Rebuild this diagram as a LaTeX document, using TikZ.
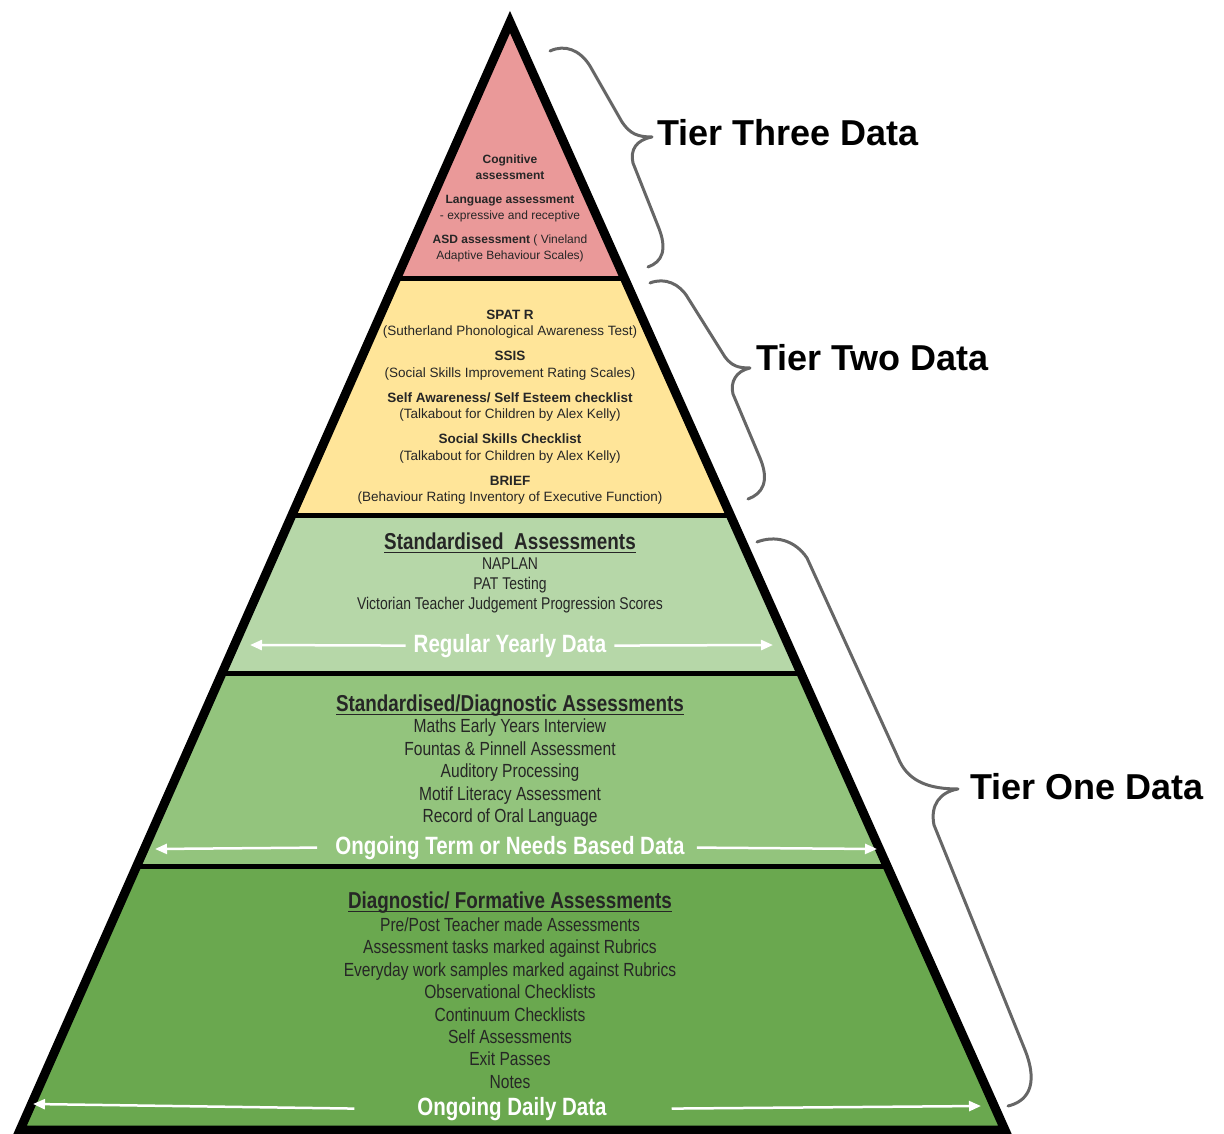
\documentclass[tikz,border=0pt]{standalone}
\usepackage{fontspec}
\setmainfont{Liberation Sans}
\newfontfamily\narrowfont[FakeStretch=0.82]{Liberation Sans}
\usetikzlibrary{arrows.meta}

\newcommand{\ulhead}[1]{\setbox0\hbox{#1}\rlap{\vrule height -2.6pt depth 4.1pt width \wd0}\box0}

\definecolor{tierthree}{HTML}{EA9999}
\definecolor{tiertwo}{HTML}{FFE599}
\definecolor{yearlygreen}{HTML}{B6D7A8}
\definecolor{termgreen}{HTML}{93C47D}
\definecolor{dailygreen}{HTML}{6AA84F}
\definecolor{bracegray}{HTML}{666666}
\definecolor{inkgray}{HTML}{262626}

\tikzset{
  sep/.style={line width=5pt},
  smalltext/.style={align=center, text=inkgray, inner sep=0pt},
  listtext/.style={align=center, text=inkgray, inner sep=0pt},
  head/.style={text=inkgray, inner sep=0pt, font=\narrowfont\bfseries\fontsize{23}{23}\selectfont},
  datalabel/.style={text=white, inner sep=8pt, font=\narrowfont\bfseries\fontsize{25}{25}\selectfont},
  spread/.style={draw=white, line width=2.5pt, -{Triangle[width=10pt,length=12pt]}},
  tierbrace/.style={draw=bracegray, line width=3pt, line cap=round, line join=round},
  tierlabel/.style={anchor=west, inner sep=0pt, font=\bfseries\fontsize{36}{36}\selectfont}
}

\begin{document}
\begin{tikzpicture}[x=1pt, y=-1pt]
  \useasboundingbox (0,0) rectangle (1224,1134);

  \coordinate (apex) at (510,22);
  \coordinate (bl) at (20,1130);
  \coordinate (br) at (1005,1130);

  % the bands
  \begin{scope}
    \clip (apex) -- (bl) -- (br) -- cycle;
    \fill[tierthree] (0,0) rectangle (1224,279);
    \fill[tiertwo] (0,279) rectangle (1224,515);
    \fill[yearlygreen] (0,515) rectangle (1224,673);
    \fill[termgreen] (0,673) rectangle (1224,866);
    \fill[dailygreen] (0,866) rectangle (1224,1134);
    \draw[sep] (0,279) -- (1224,279);
    \draw[sep] (0,515) -- (1224,515);
    \draw[sep] (0,673) -- (1224,673);
    \draw[sep] (0,866) -- (1224,866);
  \end{scope}
  \draw[line width=9pt, line join=miter] (apex) -- (bl) -- (br) -- cycle;

  % tier three
  \node[smalltext, font=\fontsize{12}{16}\selectfont] (tthree) at (510,208)
    {\textbf{Cognitive}\\\textbf{assessment}\\[8pt]\textbf{Language assessment}\\- expressive and receptive\\[8pt]\textbf{ASD assessment} ( Vineland\\Adaptive Behaviour Scales)};

  % tier two
  \node[smalltext, font=\fontsize{13.5}{16.5}\selectfont] (ttwo) at (510,407)
    {\textbf{SPAT R}\\(Sutherland Phonological Awareness Test)\\[8.5pt]\textbf{SSIS}\\(Social Skills Improvement Rating Scales)\\[8.5pt]\textbf{Self Awareness/ Self Esteem checklist}\\(Talkabout for Children by Alex Kelly)\\[8.5pt]\textbf{Social Skills Checklist}\\(Talkabout for Children by Alex Kelly)\\[8.5pt]\textbf{BRIEF}\\(Behaviour Rating Inventory of Executive Function)};

  % tier one
  \node[head, anchor=base] (stdhead) at (510,549) {\ulhead{Standardised~ Assessments}};
  \node[listtext, font=\narrowfont\fontsize{17}{20}\selectfont] (stdlist) at (510,585)
    {NAPLAN\\PAT Testing\\Victorian Teacher Judgement Progression Scores};
  \node[datalabel, anchor=base] (yearly) at (510,652) {Regular Yearly Data};

  \node[head, anchor=base] (diaghead) at (510,711) {\ulhead{Standardised/Diagnostic Assessments}};
  \node[listtext, font=\narrowfont\fontsize{19}{22.5}\selectfont] (diaglist) at (510,773)
    {Maths Early Years Interview\\Fountas \& Pinnell Assessment\\Auditory Processing\\Motif Literacy Assessment\\Record of Oral Language};
  \node[datalabel, anchor=base] (term) at (510,854) {Ongoing Term or Needs Based Data};

  \node[head, anchor=base] (formhead) at (510,908) {\ulhead{Diagnostic/ Formative Assessments}};
  \node[listtext, font=\narrowfont\fontsize{19}{22.4}\selectfont] (formlist) at (510,1003)
    {Pre/Post Teacher made Assessments\\Assessment tasks marked against Rubrics\\Everyday work samples marked against Rubrics\\Observational Checklists\\Continuum Checklists\\Self Assessments\\Exit Passes\\Notes};
  \node[datalabel, anchor=base] (daily) at (512,1115) {Ongoing Daily Data};

  % arrows
  \coordinate (yl) at (250,645);
  \coordinate (yr) at (773,645);
  \coordinate (tl) at (155,849);
  \coordinate (tr) at (877,849);
  \coordinate (dl) at (33,1104);
  \coordinate (dr) at (981,1106);
  \draw[spread] (yearly.west) -- (yl);
  \draw[spread] (yearly.east) -- (yr);
  \draw[spread] ([xshift=-10pt]term.west) -- (tl);
  \draw[spread] ([xshift=4pt]term.east) -- (tr);
  \draw[spread] ([xshift=-55pt]daily.west) -- (dl);
  \draw[spread] ([xshift=57pt]daily.east) -- (dr);

  % braces
  \draw[tierbrace] (550,51) .. controls (565,44) and (580,50) .. (590,66) -- (622,122)
    .. controls (630,134) and (638,137) .. (652,137)
    .. controls (636,140) and (630,150) .. (633,163) -- (658,226)
    .. controls (668,250) and (662,262) .. (648,267);
  \draw[tierbrace] (650,283) .. controls (665,277) and (680,284) .. (688,298) -- (725,357)
    .. controls (732,366) and (738,368) .. (750,368)
    .. controls (736,371) and (730,382) .. (733,394) -- (760,458)
    .. controls (770,482) and (762,494) .. (748,499);
  \draw[tierbrace] (757,542) .. controls (775,535) and (795,540) .. (807,558) -- (900,762)
    .. controls (910,782) and (930,789) .. (958,789)
    .. controls (940,792) and (930,805) .. (934,825) -- (1025,1050)
    .. controls (1040,1088) and (1025,1102) .. (1008,1106);

  \node[tierlabel] (tier3) at (657,133) {Tier Three Data};
  \node[tierlabel] (tier2) at (756,358) {Tier Two Data};
  \node[tierlabel] (tier1) at (970,787) {Tier One Data};
\end{tikzpicture}
\end{document}
